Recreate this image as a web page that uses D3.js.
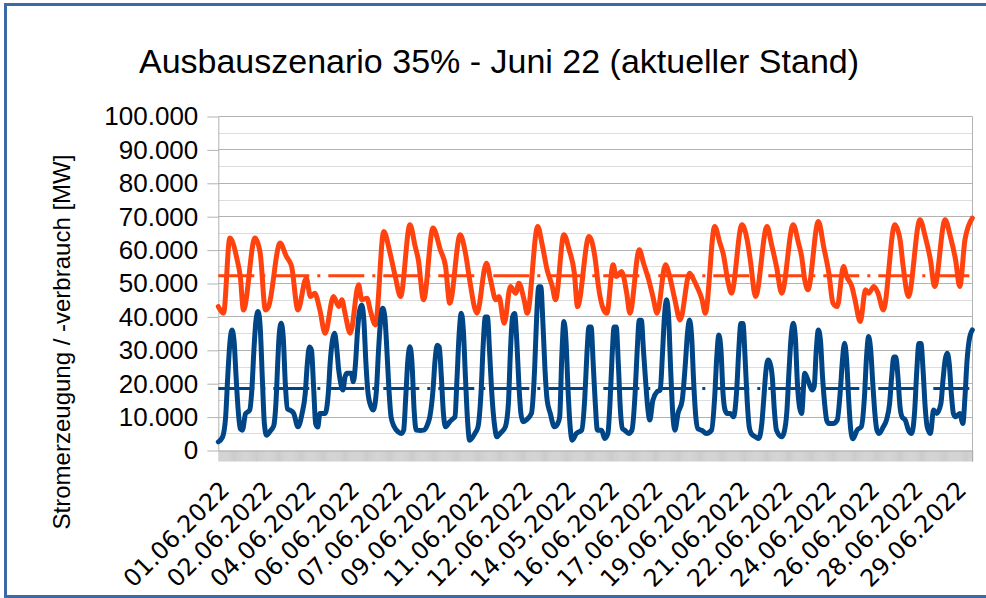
<!DOCTYPE html>
<html><head><meta charset="utf-8">
<script src="https://cdn.jsdelivr.net/npm/d3@7"></script>
<style>body{margin:0;background:#fff}svg{display:block}</style>
</head><body><svg id="c" width="986" height="598"></svg>
<script>
const chartTitle = "Ausbauszenario 35% - Juni 22 (aktueller Stand)";
const yTitle = "Stromerzeugung / -verbrauch [MW]";
const xLabels = ["01.06.2022","02.06.2022","04.06.2022","06.06.2022","07.06.2022","09.06.2022","11.06.2022","12.06.2022","14.05.2022","16.06.2022","17.06.2022","19.06.2022","21.06.2022","22.06.2022","24.06.2022","26.06.2022","28.06.2022","29.06.2022"];
const yTicks = [0,10000,20000,30000,40000,50000,60000,70000,80000,90000,100000];
const hourCount = 720;
const labelStepHours = 41.4;

// Verbrauch (orange)
const verbrauchHours = [0,5,11,18,21,24,35,40,45,48,59,65,70,76,84,88,92,97,102,110,115,118,121,126,134,137,142,145,150,158,164,169,174,183,188,191,196,205,212,217,221,231,236,240,247,256,260,265,268,273,279,284,287,292,295,305,309,314,319,322,330,335,340,343,354,360,363,368,371,377,380,385,390,393,402,406,411,415,419,427,431,436,441,450,454,457,462,465,474,479,482,487,490,500,505,508,513,524,528,533,538,549,554,557,560,563,573,578,583,587,591,597,600,605,608,613,618,621,626,630,635,646,651,654,659,670,675,680,684,694,699,704,708,713,720];
const verbrauchValues = [43100,41100,63600,57100,52100,42100,63600,59100,42100,43100,62100,58100,55100,42100,51600,46100,47100,42100,35100,46100,43100,45100,41100,35100,49600,45100,45600,42100,37600,65600,59100,52100,46100,67600,61100,57100,45100,66600,60100,55100,44100,64600,59100,51100,41100,56100,51100,45100,46100,38100,49100,47100,50100,45100,41100,67100,62100,54100,49100,45100,64600,60100,53100,43100,64100,57100,49100,42100,41100,55600,52100,53600,47100,41100,60100,56100,51100,46100,41100,55600,52100,45100,39100,53100,51100,49100,45100,41100,67100,62100,59100,50100,47100,67600,63100,57100,46100,67100,62100,55100,47100,67600,62100,58100,51100,48100,68600,61100,53100,44100,43100,55100,52100,49100,45100,38600,48100,47100,49100,47100,42100,67600,63100,55100,46100,69100,64100,57100,49100,69100,64100,57100,49100,63100,69600];

// Erzeugung (blau)
const erzeugungHours = [0,4,7,9,11,13,15,17,19,21,23,26,30,32,34,36,38,40,42,44,46,50,53,55,57,58,60,62,64,66,69,72,76,80,83,85,87,89,91,93,95,97,102,105,107,109,111,113,115,117,119,121,123,127,129,131,133,135,137,139,141,143,146,148,151,153,155,157,159,161,163,165,168,172,175,177,179,181,183,185,187,189,193,196,200,202,205,207,209,211,213,215,217,221,224,226,228,230,232,234,236,238,240,245,248,251,253,255,257,259,261,264,266,269,274,277,279,281,283,285,287,289,291,294,299,302,304,306,308,310,312,314,317,321,324,326,328,330,332,334,336,338,342,347,350,352,354,356,358,360,362,366,369,372,374,376,378,380,382,384,386,388,392,395,398,400,402,404,406,408,410,412,415,419,422,424,426,428,430,432,434,436,439,443,446,448,450,452,454,456,458,462,466,471,474,476,478,480,482,484,486,489,492,495,497,499,501,503,505,507,509,513,516,519,521,523,525,527,529,531,533,538,540,543,545,547,549,551,553,555,557,560,563,567,569,571,573,575,577,579,581,583,587,591,594,596,598,600,602,604,606,610,614,617,619,621,623,625,627,629,631,635,638,641,643,645,647,649,651,653,656,659,662,665,667,669,671,673,675,677,680,683,686,690,692,694,696,698,700,702,704,708,711,713,715,717,720];
const erzeugungValues = [2600,4000,10000,22000,32000,36100,33000,22000,12000,6500,6100,11000,12100,18000,30000,39000,41600,37000,22000,8000,4600,6000,7500,14000,28000,34000,38100,34000,20000,12500,12000,11100,7100,11100,17000,26000,31000,30000,19000,8000,7000,11100,11100,17000,27000,33000,35100,31000,24000,20000,18100,22000,23100,23100,20600,26000,36000,42000,43600,39000,26000,17100,13000,12100,18000,30000,39000,42600,40000,30000,18000,10000,7100,5500,5100,6100,16000,27000,31100,26000,12000,6100,6000,6100,8000,10100,18000,27000,31500,31000,22000,11000,7100,8600,9500,10100,22000,35000,41100,36000,22000,9000,3100,5100,7100,18000,32000,40000,40000,30000,18000,7000,4100,5100,7000,14000,30000,40000,41000,33000,20000,11000,8600,9100,11100,24000,40000,49000,49000,38000,24000,15100,11100,7100,8000,10100,28000,38600,33000,18000,7000,3100,5100,6100,16000,29000,37000,37000,26000,14000,6100,6100,3600,5100,14000,28000,37000,37000,26000,12000,6500,6100,5100,6100,17000,30000,39000,39000,30000,21000,13000,9100,15100,17600,18100,28000,40000,45100,40000,24000,11000,6100,11100,15100,26000,35000,39100,34000,20000,10000,6500,6000,5100,6100,16000,28000,34600,30000,17000,12000,11100,11100,10100,18000,30000,38000,38000,28000,15100,7000,5000,4100,3600,8000,16000,24000,27100,26000,22000,12000,6100,4100,5100,12000,24000,34000,38100,34000,20000,13000,11100,23100,21100,18100,19100,30000,36100,33000,22000,14000,9000,8100,8100,9100,18000,27000,32100,27000,15000,6000,3500,6100,7100,16000,28000,34100,30000,20000,11000,6000,5100,7100,9100,14000,22000,28000,28000,22000,13000,10000,9100,6100,5100,12000,24000,32000,32000,24000,13000,7000,5100,12100,11100,14000,21000,27000,29100,26000,17000,11000,10100,11100,8100,16000,27000,33000,36100];

const verbrauchMean = 52300;
const erzeugungMean = 18600;

const colBlue = "#004586", colOrange = "#ff420e";
const svg = d3.select("#c");
const W = 986, H = 598;
svg.append("rect").attr("width", W).attr("height", H).attr("fill", "#fff");

const x = d3.scaleLinear().domain([0, hourCount]).range([218.3, 972.3]);
const y = d3.scaleLinear().domain([0, 100000]).range([450.5, 116.5]);
const loc = d3.formatLocale({decimal: ",", thousands: ".", grouping: [3], currency: ["", "€"]});
const fmt = loc.format(",d");

// minor + major gridlines
const grid = svg.append("g");
d3.range(5000, 100001, 5000).forEach(v => {
  const yy = Math.round(y(v) - 0.5) + 0.5;
  grid.append("line").attr("x1", x(0)).attr("x2", x(hourCount)).attr("y1", yy).attr("y2", yy)
    .attr("stroke", v % 10000 === 0 ? "#b3b3b3" : "#dddddd").attr("stroke-width", 1);
});
// right border of plot
svg.append("line").attr("x1", 972.5).attr("x2", 972.5).attr("y1", y(100000)).attr("y2", y(0) + 11)
  .attr("stroke", "#b3b3b3");

// y axis
const yAxis = svg.append("g").attr("transform", `translate(${x(0)},0)`)
  .call(d3.axisLeft(y).tickValues(yTicks).tickSize(11).tickSizeOuter(0).tickPadding(9).tickFormat(fmt));
yAxis.select(".domain").attr("stroke", "#b3b3b3");
yAxis.selectAll(".tick line").attr("stroke", "#b3b3b3");
yAxis.selectAll("text").attr("font-family", "Liberation Sans, Arial, sans-serif").attr("font-size", 26).attr("fill", "#000");

// x axis category ticks
const xTickAxis = svg.append("g").attr("transform", `translate(0,${y(0)})`)
  .call(d3.axisBottom(x).tickValues(d3.range(0, hourCount + 1)).tickSize(11).tickSizeOuter(0).tickFormat(""));
xTickAxis.select(".domain").attr("stroke", "#b3b3b3");
xTickAxis.selectAll(".tick line").attr("stroke", "#a8a8a8").attr("stroke-width", 0.6);

// x labels
const xLabAxis = svg.append("g").attr("transform", `translate(0,${y(0)})`)
  .call(d3.axisBottom(x).tickValues(xLabels.map((d, i) => i * labelStepHours)).tickSize(0).tickFormat((d, i) => xLabels[i]));
xLabAxis.select(".domain").remove();
xLabAxis.selectAll("text")
  .attr("font-family", "DejaVu Sans, sans-serif").attr("font-size", 24).attr("fill", "#000")
  .attr("text-anchor", "end").attr("x", 0).attr("y", 0).attr("dy", "0.35em")
  .attr("transform", "translate(6,35) rotate(-45)");

// series
const line = d3.line().x(d => x(d[0])).y(d => y(d[1])).curve(d3.curveMonotoneX);
const verbrauch = verbrauchHours.map((h, i) => [h, verbrauchValues[i]]);
const erzeugung = erzeugungHours.map((h, i) => [h, erzeugungValues[i]]);

svg.append("path").datum(verbrauch).attr("d", line).attr("fill", "none")
  .attr("stroke", colOrange).attr("stroke-width", 5).attr("stroke-linejoin", "round").attr("stroke-linecap", "round");
svg.append("path").datum(erzeugung).attr("d", line).attr("fill", "none")
  .attr("stroke", colBlue).attr("stroke-width", 5).attr("stroke-linejoin", "round").attr("stroke-linecap", "round");

// mean lines
[[verbrauchMean, colOrange], [erzeugungMean, colBlue]].forEach(([m, c]) => {
  svg.append("line").attr("x1", x(0)).attr("x2", x(hourCount)).attr("y1", y(m)).attr("y2", y(m))
    .attr("stroke", c).attr("stroke-width", 3).attr("stroke-dasharray", "36,8,3,8");
});

// title
svg.append("text").attr("x", 499).attr("y", 73).attr("text-anchor", "middle")
  .attr("font-family", "Liberation Sans, Arial, sans-serif").attr("font-size", 34).attr("fill", "#000")
  .text(chartTitle);
// y title
svg.append("text").attr("transform", "translate(69.5,342) rotate(-90)").attr("text-anchor", "middle")
  .attr("font-family", "Liberation Sans, Arial, sans-serif").attr("font-size", 24).attr("fill", "#000")
  .text(yTitle);

// frame
svg.append("rect").attr("x", 5.5).attr("y", 4.5).attr("width", 990).attr("height", 592)
  .attr("fill", "none").attr("stroke", "#3b6aa8").attr("stroke-width", 3);
</script></body></html>
